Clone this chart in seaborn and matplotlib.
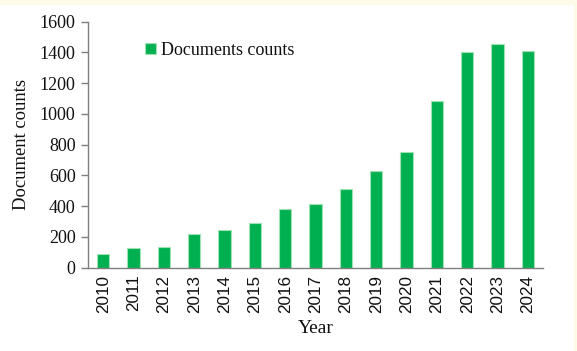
import matplotlib
matplotlib.use('Agg')
import matplotlib.pyplot as plt
import seaborn as sns
import pandas as pd
import numpy as np

years = ['2010', '2011', '2012', '2013', '2014', '2015', '2016', '2017',
         '2018', '2019', '2020', '2021', '2022', '2023', '2024']
counts = [87, 126, 133, 219, 245, 291, 384, 412, 514, 629, 755, 1082, 1401, 1453, 1411]

df = pd.DataFrame({'Year': years, 'Document counts': counts})

sns.set_style('white')
plt.rcParams['font.family'] = ['Liberation Serif', 'DejaVu Serif']

fig = plt.figure(figsize=(5.77, 3.51), dpi=100)
fig.patch.set_facecolor('#fffbe9')
# white panel behind the chart
fig.patches.append(plt.Rectangle((0, 0), 574 / 577, 346 / 351, transform=fig.transFigure,
                                 facecolor='white', edgecolor='none', zorder=-1))
ax = fig.add_axes([88 / 577, (351 - 267.7) / 351, 455 / 577, 246 / 351])
ax.set_facecolor('none')

sns.barplot(data=df, x='Year', y='Document counts', color='#00b050', width=0.4,
            edgecolor='#9fe3b5', linewidth=0.8, saturation=1, ax=ax,
            label='Documents counts')

ax.set_xlim(-0.5, len(years) - 0.5)
ax.set_ylim(0, 1600)
ax.set_yticks(range(0, 1601, 200))
ax.set_xticks(np.arange(-0.5, len(years), 1), minor=True)
ax.tick_params(axis='x', which='major', length=0, pad=5)
ax.tick_params(axis='x', which='minor', length=5, color='#7f7f7f', width=1)
ax.tick_params(axis='y', length=5, color='#7f7f7f', width=1, labelsize=13, pad=4,
               labelcolor='#111111')
ax.tick_params(axis='y', left=True)
for lab in ax.get_xticklabels():
    lab.set_rotation(90)
    lab.set_family('Liberation Sans')
    lab.set_fontsize(12.3)
    lab.set_color('#111111')

for side in ['top', 'right']:
    ax.spines[side].set_visible(False)
for side in ['left', 'bottom']:
    ax.spines[side].set_color('#7f7f7f')
    ax.spines[side].set_linewidth(1)

ax.set_xlabel('Year', fontsize=14, labelpad=5, color='#111111')
ax.set_ylabel('Document counts', fontsize=13.4, labelpad=7, color='#111111')

ax.legend(loc='upper left', bbox_to_anchor=(0.09, 0.985), frameon=False, fontsize=13,
          handlelength=0.6, handleheight=0.6, handletextpad=0.3,
          labelcolor='#111111')

plt.savefig('out.png', dpi=100)
